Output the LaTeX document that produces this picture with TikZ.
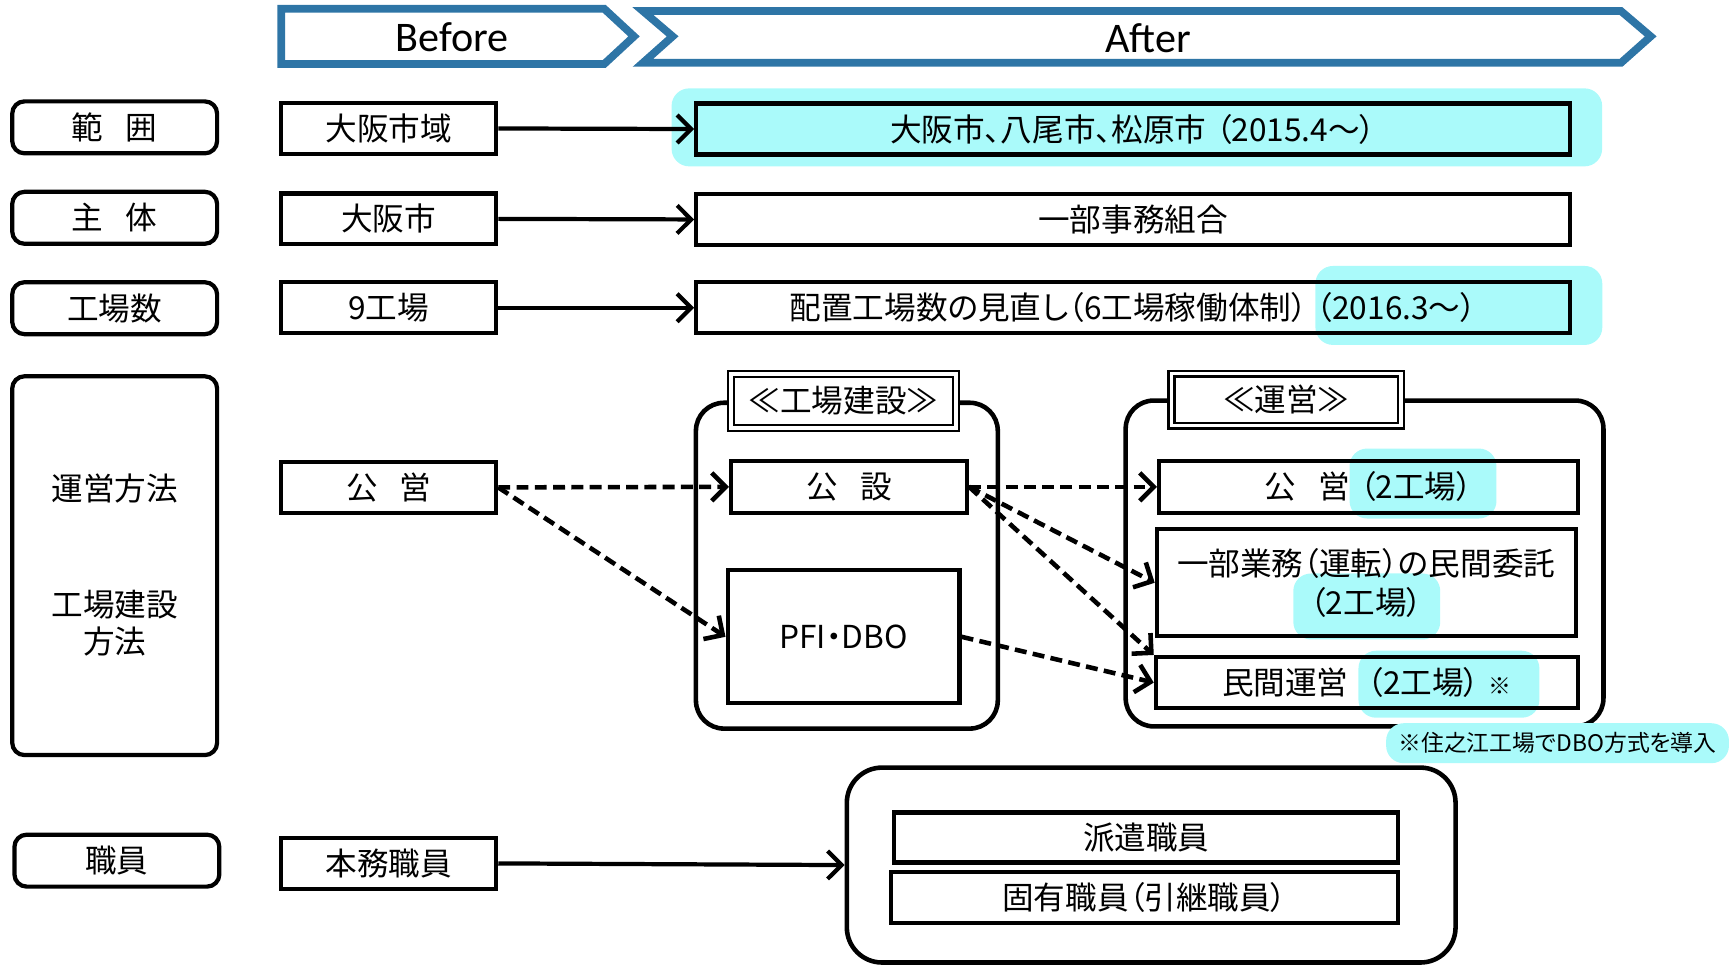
\documentclass[tikz,border=0pt]{standalone}
\usepackage{fontspec}
\setmainfont{Noto Sans CJK JP}[RawFeature=+palt]
\newfontfamily\hdrfont{Carlito}
\usepackage{xcolor}
\usepackage{tikz}
\usetikzlibrary{arrows.meta, positioning, calc}
\definecolor{hdrblue}{RGB}{46,117,166}
\definecolor{hilite}{RGB}{170,250,250}
\tikzset{
  hdr/.style={draw=hdrblue, line width=2.2pt, line join=miter, fill=white},
  rowlabel/.style={draw, rounded corners=3.5pt, line width=1.2pt, minimum width=2.05cm, minimum height=0.52cm, inner sep=0pt},
  oldbox/.style={draw, line width=1.2pt, minimum width=2.15cm, minimum height=0.51cm, inner sep=0pt},
  newbox/.style={draw, line width=1.2pt, minimum width=8.74cm, minimum height=0.51cm, inner sep=0pt},
  subbox/.style={draw, line width=1.2pt, inner sep=0pt, align=center},
  grpbox/.style={draw, rounded corners=8pt, line width=1.3pt, inner sep=0pt},
  titlebox/.style={draw, double, double distance=1pt, line width=0.7pt, fill=white, inner sep=0pt},
  hl/.style={fill=hilite, rounded corners=5pt, inner sep=0pt},
  link/.style={-{Straight Barb[length=1.4mm, width=2.8mm]}, line width=1.2pt},
  dlink/.style={link, dash pattern=on 3.4pt off 1.8pt, line width=1.3pt}
}
\newcommand{\gap}{\hspace{.7em}}

\begin{document}
\begin{tikzpicture}[x=0.011027cm, y=-0.011027cm, font=\fontsize{9}{10.6}\selectfont]
        \useasboundingbox (0,0) rectangle (1568,876);

        % Header arrows
        \draw[hdr] (255,8) -- (548,8) -- (575,33) -- (548,58) -- (255,58) -- cycle;
        \draw[hdr] (583,10) -- (1470,10) -- (1497,33) -- (1470,57) -- (583,57) -- (610,33) -- cycle;
        \node[font=\hdrfont\fontsize{12}{14}\selectfont] (before) at (410,34) {Before};
        \node[font=\hdrfont\fontsize{12}{14}\selectfont] (after)  at (1041,35) {After};

        % Row labels
        \node[rowlabel] (lscope) at (104,115.5) {範\gap 囲};
        \node[rowlabel] (lbody)  at (104,197.5) {主\gap 体};
        \node[rowlabel] (lnum)   at (104,279.5) {工場数};
        \node[rowlabel, minimum height=3.79cm] (lmethod) at (104,513) {};
        \node (lop)    at (104,443) {運営方法};
        \node[align=center] (lbuild) at (104,565) {工場建設\\方法};
        \node[rowlabel] (lstaff) at (106,780.5) {職員};

        % Before
        \node[oldbox] (bscope) at (352.5,116.5) {大阪市域};
        \node[oldbox] (bbody)  at (352.5,198.5) {大阪市};
        \node[oldbox] (bnum)   at (352.5,279)   {9工場};
        \node[oldbox] (bop)    at (352.5,442)   {公\gap 営};
        \node[oldbox] (bstaff) at (352.5,783)   {本務職員};

        % Highlights
        \node[hl, minimum width=9.31cm, minimum height=0.78cm] (hscope) at (1031,115.5) {};
        \node[hl, minimum width=2.87cm, minimum height=0.79cm] (hnum)   at (1323,277) {};
        \node[hl, minimum width=1.47cm, minimum height=0.70cm] (hopub)  at (1290.5,438.5) {};
        \node[hl, minimum width=1.47cm, minimum height=0.66cm] (hopart) at (1239.5,550) {};
        \node[hl, minimum width=1.81cm, minimum height=0.67cm] (hopriv) at (1314,620.5) {};

        % After
        \node[newbox] (ascope) at (1027.5,117) {大阪市、八尾市、松原市\hspace{.3em}（2015.4〜）};
        \node[newbox] (abody)  at (1027.5,199) {一部事務組合};
        \node[newbox] (anum)   at (1027.5,279) {配置工場数の見直し（6工場稼働体制）\hspace{.3em}（2016.3〜）};

        % Plant construction
        \node[grpbox, minimum width=3.02cm, minimum height=3.26cm] (gbuild) at (768,513) {};
        \node[titlebox, minimum width=2.25cm, minimum height=0.54cm] (tbuild) at (765,363.5) {≪工場建設≫};
        \node[subbox, minimum width=2.36cm, minimum height=0.52cm] (cpub) at (770,441.5) {公\gap 設};
        \node[subbox, minimum width=2.32cm, minimum height=1.33cm] (cpfi) at (765,577.5) {PFI・DBO};

        % Operation
        \node[grpbox, minimum width=4.78cm, minimum height=3.26cm] (gop) at (1237.5,511) {};
        \node[titlebox, minimum width=2.3cm, minimum height=0.52cm] (top) at (1166.5,362.5) {≪運営≫};
        \node[subbox, minimum width=4.19cm, minimum height=0.52cm] (opub)  at (1241,441.5) {公\gap 営\hspace{.3em}（2工場）};
        \node[subbox, minimum width=4.19cm, minimum height=1.07cm, font=\fontsize{9}{11}\selectfont] (opart) at (1239,528.5) {一部業務（運転）の民間委託\\（2工場）};
        \node[subbox, minimum width=4.22cm, minimum height=0.51cm] (opriv) at (1239.5,619) {民間運営\hspace{.6em}（2工場）\hspace{2.5pt}{\fontsize{6.5}{8}\selectfont ※}};
        \node[hl, minimum width=3.43cm, minimum height=0.40cm, font=\fontsize{6.5}{8}\selectfont] (note) at (1412.5,674) {※住之江工場でDBO方式を導入};

        % Staff
        \node[grpbox, rounded corners=10pt, minimum width=6.09cm, minimum height=1.95cm] (gstaff) at (1044,784.5) {};
        \node[subbox, minimum width=5.04cm, minimum height=0.50cm] (sdisp) at (1039.5,759.5) {派遣職員};
        \node[subbox, minimum width=5.07cm, minimum height=0.51cm] (sown)  at (1038,814)    {固有職員（引継職員）};

        % Links
        \draw[link] (bscope.east) -- (ascope.west);
        \draw[link] (bbody.east) -- (abody.west);
        \draw[link] (bnum.east) -- (anum.west);
        \draw[link] (bstaff.east) -- (gstaff.west);

        \draw[dlink] (bop.east) -- (cpub.west);
        \draw[dlink] (bop.east) -- (cpfi.west);
        \draw[dlink] (cpub.east) -- (opub.west);
        \draw[dlink] (cpub.east) -- (opart.west);
        \draw[dlink] (cpub.east) -- (opriv.north west);
        \draw[dlink] (cpfi.east) -- (opriv.west);
    \end{tikzpicture}
\end{document}
